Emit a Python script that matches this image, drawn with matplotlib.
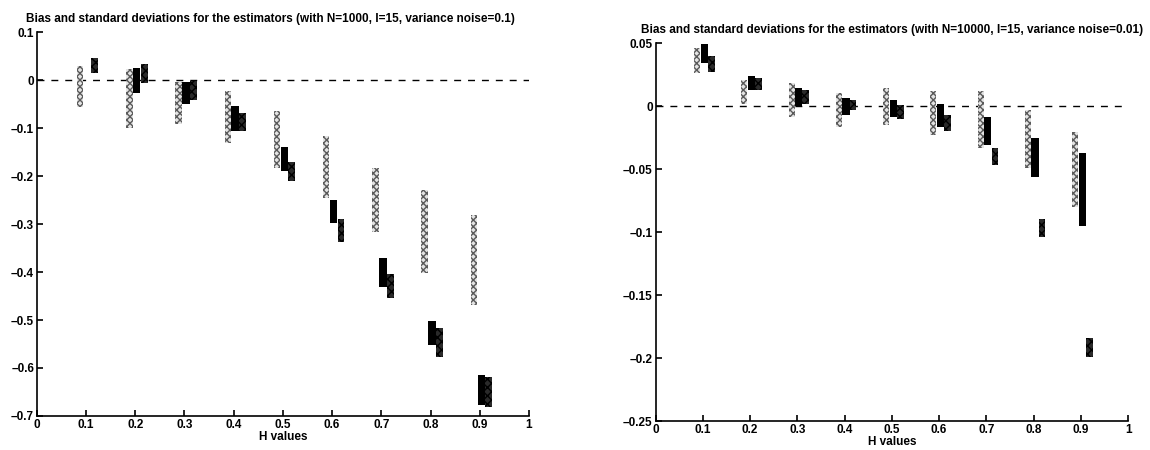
import matplotlib
matplotlib.use("Agg")
import matplotlib.pyplot as plt
import numpy as np

plt.rcParams['font.family'] = ['Liberation Sans', 'DejaVu Sans']
plt.rcParams['font.weight'] = 'bold'
plt.rcParams['hatch.linewidth'] = 1.0

H = [0.1, 0.2, 0.3, 0.4, 0.5, 0.6, 0.7, 0.8, 0.9]
x_ticks = [0, 0.1, 0.2, 0.3, 0.4, 0.5, 0.6, 0.7, 0.8, 0.9, 1]
x_ticklabels = ['0', '0.1', '0.2', '0.3', '0.4', '0.5', '0.6', '0.7', '0.8', '0.9', '1']

# Left panel (N=1000) : lower / upper ends of the bias +- std intervals
left_gray_lo = [-0.056, -0.100, -0.092, -0.131, -0.183, -0.246, -0.316, -0.403, -0.469]
left_gray_hi = [0.029, 0.023, -0.004, -0.023, -0.064, -0.117, -0.184, -0.228, -0.281]
left_black_lo = [np.nan, -0.027, -0.050, -0.106, -0.190, -0.298, -0.431, -0.552, -0.677]
left_black_hi = [np.nan, 0.025, -0.004, -0.054, -0.139, -0.250, -0.371, -0.502, -0.615]
left_dark_lo = [0.015, -0.006, -0.042, -0.106, -0.210, -0.337, -0.454, -0.577, -0.681]
left_dark_hi = [0.046, 0.033, -0.002, -0.069, -0.170, -0.290, -0.404, -0.517, -0.619]

# Right panel (N=10000)
right_gray_lo = [0.026, 0.002, -0.009, -0.017, -0.015, -0.023, -0.033, -0.049, -0.080]
right_gray_hi = [0.046, 0.021, 0.018, 0.010, 0.014, 0.012, 0.012, -0.003, -0.021]
right_black_lo = [0.034, 0.013, 0.000, -0.007, -0.009, -0.017, -0.031, -0.056, -0.095]
right_black_hi = [0.049, 0.024, 0.014, 0.006, 0.005, 0.002, -0.009, -0.025, -0.037]
right_dark_lo = [0.027, 0.013, 0.002, -0.003, -0.010, -0.020, -0.047, -0.104, -0.199]
right_dark_hi = [0.040, 0.022, 0.013, 0.005, 0.001, -0.007, -0.033, -0.090, -0.184]

left_yticks = [0.1, 0, -0.1, -0.2, -0.3, -0.4, -0.5, -0.6, -0.7]
left_yticklabels = ['0.1', '0', '\u20130.1', '\u20130.2', '\u20130.3', '\u20130.4', '\u20130.5', '\u20130.6', '\u20130.7']
right_yticks = [0.05, 0, -0.05, -0.1, -0.15, -0.2, -0.25]
right_yticklabels = ['0.05', '0', '\u20130.05', '\u20130.1', '\u20130.15', '\u20130.2', '\u20130.25']

left_title = 'Bias and standard deviations for the estimators (with N=1000, l=15, variance noise=0.1)'
right_title = 'Bias and standard deviations for the estimators (with N=10000, l=15, variance noise=0.01)'

fig = plt.figure(figsize=(11.5, 4.5), dpi=100)
axL = fig.add_axes([0.032, 0.0756, 0.428, 0.853])
axR = fig.add_axes([0.570, 0.0644, 0.411, 0.840])

FS = 8.5


def draw(ax, glo, ghi, blo, bhi, dlo, dhi, yticks, ylabels, title, ylim, title_x):
    h = np.array(H)
    glo, ghi = np.array(glo), np.array(ghi)
    blo, bhi = np.array(blo), np.array(bhi)
    dlo, dhi = np.array(dlo), np.array(dhi)
    ax.axhline(0, color='black', lw=1.0, ls=(0, (5, 5)), zorder=1)
    ax.bar(h - 0.012, ghi - glo, bottom=glo, width=0.013, facecolor='#e4e4e4',
           edgecolor='#5a5a5a', hatch='xxxxx', linewidth=0, zorder=2)
    ax.bar(h + 0.003, bhi - blo, bottom=blo, width=0.015, facecolor='black',
           edgecolor='black', linewidth=0, zorder=3)
    ax.bar(h + 0.018, dhi - dlo, bottom=dlo, width=0.014, facecolor='#2a2a2a',
           edgecolor='#000000', hatch='xxxx', linewidth=0, zorder=3)
    ax.set_xlim(0, 1)
    ax.set_ylim(*ylim)
    ax.set_xticks(x_ticks)
    ax.set_xticklabels(x_ticklabels, fontsize=FS, fontweight='bold')
    ax.set_yticks(yticks)
    ax.set_yticklabels(ylabels, fontsize=FS, fontweight='bold')
    ax.spines['top'].set_visible(False)
    ax.spines['right'].set_visible(False)
    ax.spines['left'].set_linewidth(1.2)
    ax.spines['bottom'].set_linewidth(1.2)
    ax.tick_params(direction='in', length=4, width=1.2, pad=2)
    ax.set_xlabel('H values', fontsize=FS, fontweight='bold', labelpad=0)
    ax.set_title(title, fontsize=FS, fontweight='bold', pad=7, x=title_x)


draw(axL, left_gray_lo, left_gray_hi, left_black_lo, left_black_hi,
     left_dark_lo, left_dark_hi, left_yticks, left_yticklabels, left_title, (-0.7, 0.1), 0.475)
draw(axR, right_gray_lo, right_gray_hi, right_black_lo, right_black_hi,
     right_dark_lo, right_dark_hi, right_yticks, right_yticklabels, right_title, (-0.25, 0.05), 0.5)

fig.savefig('out.png', dpi=100)
